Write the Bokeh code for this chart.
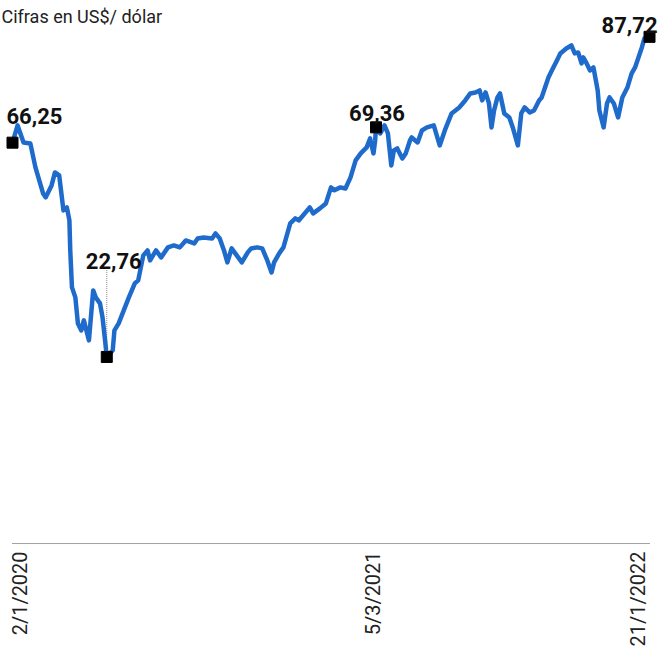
import math
import pandas as pd
from bokeh.plotting import figure
from bokeh.models import Range1d, Label, ColumnDataSource
from bokeh.core.properties import value
from bokeh.embed import file_html
from bokeh.resources import INLINE

# ---------------- data (Brent, US$ per barrel) ----------------
dates = [
    "2020-01-02", "2020-01-08", "2020-01-15", "2020-01-23", "2020-01-29", "2020-02-07",
    "2020-02-10", "2020-02-17", "2020-02-21", "2020-02-26", "2020-03-02", "2020-03-06",
    "2020-03-09", "2020-03-10", "2020-03-12", "2020-03-16", "2020-03-19", "2020-03-23",
    "2020-03-26", "2020-04-01", "2020-04-06", "2020-04-09", "2020-04-14", "2020-04-17",
    "2020-04-20", "2020-04-22", "2020-04-29", "2020-05-01", "2020-05-06", "2020-05-12",
    "2020-05-18", "2020-05-25", "2020-05-29", "2020-06-04", "2020-06-09", "2020-06-12",
    "2020-06-19", "2020-06-25", "2020-07-03", "2020-07-10", "2020-07-17", "2020-07-24",
    "2020-08-03", "2020-08-07", "2020-08-14", "2020-08-24", "2020-08-28", "2020-09-02",
    "2020-09-07", "2020-09-11", "2020-09-16", "2020-09-22", "2020-09-28", "2020-10-05",
    "2020-10-09", "2020-10-16", "2020-10-22", "2020-10-28", "2020-11-02", "2020-11-05",
    "2020-11-11", "2020-11-16", "2020-11-20", "2020-11-24", "2020-11-30", "2020-12-04",
    "2020-12-11", "2020-12-17", "2020-12-21", "2020-12-29", "2021-01-05", "2021-01-11",
    "2021-01-15", "2021-01-22", "2021-01-28", "2021-02-03", "2021-02-09", "2021-02-15",
    "2021-02-22", "2021-02-26", "2021-03-02", "2021-03-04", "2021-03-05", "2021-03-10",
    "2021-03-15", "2021-03-19", "2021-03-23", "2021-03-26", "2021-03-30", "2021-04-05",
    "2021-04-09", "2021-04-14", "2021-04-16", "2021-04-23", "2021-04-28", "2021-05-04",
    "2021-05-12", "2021-05-19", "2021-05-25", "2021-06-02", "2021-06-11", "2021-06-18",
    "2021-06-24", "2021-06-30", "2021-07-05", "2021-07-08", "2021-07-12", "2021-07-16",
    "2021-07-19", "2021-07-22", "2021-07-26", "2021-07-29", "2021-08-03", "2021-08-09",
    "2021-08-13", "2021-08-19", "2021-08-23", "2021-08-27", "2021-09-02", "2021-09-07",
    "2021-09-13", "2021-09-16", "2021-09-20", "2021-09-24", "2021-09-28", "2021-10-04",
    "2021-10-08", "2021-10-15", "2021-10-21", "2021-10-25", "2021-10-29", "2021-11-02",
    "2021-11-04", "2021-11-08", "2021-11-12", "2021-11-16", "2021-11-21", "2021-11-23",
    "2021-11-28", "2021-12-02", "2021-12-05", "2021-12-10", "2021-12-15", "2021-12-20",
    "2021-12-26", "2021-12-31", "2022-01-04", "2022-01-08", "2022-01-12", "2022-01-15",
    "2022-01-21",
]
prices = [
    66.25, 69.75, 66.30, 66.10, 61.23, 55.95,
    55.14, 57.57, 60.21, 59.60, 52.50, 53.11,
    50.47, 44.39, 36.88, 34.85, 29.57, 28.15,
    30.18, 26.12, 36.27, 34.85, 33.63, 30.79,
    26.10, 22.76, 24.10, 28.15, 29.57, 32.21,
    34.85, 37.69, 38.30, 43.37, 44.39, 42.36,
    44.39, 42.97, 45.00, 45.40, 45.00, 46.41,
    45.80, 46.82, 47.02, 46.82, 47.83, 46.82,
    44.39, 41.95, 44.79, 43.37, 41.95, 43.98,
    44.79, 45.00, 44.79, 42.36, 39.92, 41.95,
    43.78, 45.00, 47.43, 49.87, 50.88, 50.47,
    51.89, 53.11, 51.89, 52.91, 53.92, 57.17,
    56.60, 57.17, 56.96, 59.20, 62.65, 64.07,
    65.29, 67.11, 64.07, 66.70, 69.36, 68.12,
    69.75, 68.12, 61.63, 64.68, 65.08, 63.05,
    64.07, 66.70, 67.31, 66.30, 68.73, 69.34,
    69.75, 65.69, 68.73, 72.18, 73.40, 74.82,
    76.24, 76.44, 76.85, 74.82, 76.44, 74.21,
    69.34, 72.79, 75.43, 76.24, 72.18, 71.37,
    69.34, 65.69, 72.18, 73.40, 72.38, 72.79,
    74.82, 75.43, 77.46, 79.49, 80.91, 82.94,
    84.36, 85.37, 85.98, 84.36, 84.56, 82.33,
    83.55, 82.33, 80.91, 81.52, 76.85, 72.79,
    69.34, 74.21, 75.43, 74.21, 71.37, 75.43,
    77.46, 80.30, 81.52, 83.55, 85.58, 87.40,
    87.72,
]

# highlighted points
hl_dates = ["2020-01-02", "2020-04-22", "2021-03-05", "2022-01-21"]
hl_values = [66.25, 22.76, 69.36, 87.72]
hl_labels = ["66,25", "22,76", "69,36", "87,72"]

# x-axis tick labels
tick_dates = ["2020-01-02", "2021-03-05", "2022-01-21"]
tick_labels = ["2/1/2020", "5/3/2021", "21/1/2022"]

title_text = "Cifras en US$/ dólar"

# ---------------- layout ----------------
W, H = 658, 647
pad_left_px, pad_right_px = 12, 9
y_top, y_bottom = 95.1, -36.2
baseline_y = -15.1
ticklabel_top_y = -16.7

x = pd.to_datetime(dates)
d0, d1 = x[0], x[-1]
span_days = (d1 - d0).total_seconds() / 86400.0
px_per_day = (W - pad_left_px - pad_right_px) / span_days
x_start = d0 - pd.Timedelta(days=pad_left_px / px_per_day)
x_end = d1 + pd.Timedelta(days=pad_right_px / px_per_day)
px_per_unit = H / (y_top - y_bottom)

p = figure(width=W, height=H, output_backend="svg", toolbar_location=None,
           x_axis_type="datetime", x_axis_location=None, y_axis_location=None,
           x_range=Range1d(x_start, x_end), y_range=Range1d(y_bottom, y_top),
           min_border=0, min_border_left=0, min_border_right=0,
           min_border_top=0, min_border_bottom=0)
p.grid.visible = False
p.outline_line_color = None
p.background_fill_color = "white"
p.border_fill_color = "white"

# dotted baseline
p.segment(x0=[d0], x1=[d1], y0=[baseline_y], y1=[baseline_y],
          line_color="#444444", line_width=1, line_dash="1 1")

# leader line for the minimum label
hx = pd.to_datetime(hl_dates)
p.segment(x0=[hx[1]], x1=[hx[1]], y0=[hl_values[1]], y1=[hl_values[1] + 90 / px_per_unit],
          line_color="#888888", line_width=1, line_dash="1 1")

# price line
src = ColumnDataSource(dict(x=x, y=prices))
p.line("x", "y", source=src, line_color="#1f6bcc", line_width=4.5, line_join="round")

# markers
p.scatter(x=hx, y=hl_values, marker="square", size=11, color="black")

# value labels
label_styles = [
    dict(align="left", dx=-6, dy=-27),
    dict(align="center", dx=7, dy=-96),
    dict(align="center", dx=1, dy=-14),
    dict(align="right", dx=8, dy=-12),
]
for d, v, t, s in zip(hx, hl_values, hl_labels, label_styles):
    p.text(x=[d], y=[v], text=[t], text_font=value("Roboto"), text_font_style="bold",
           text_font_size="22px", text_color="#111111", text_align=s["align"],
           text_baseline="alphabetic", x_offset=s["dx"], y_offset=s["dy"])

# x tick labels (rotated)
tick_dx = [7, -3, -12]
tx = pd.to_datetime(tick_dates)
for d, t, dx in zip(tx, tick_labels, tick_dx):
    p.text(x=[d], y=[ticklabel_top_y], text=[t], angle=math.pi / 2,
           text_font=value("Roboto"), text_font_size="20px", text_color="#222222",
           text_align="right", text_baseline="middle", x_offset=dx)

# title
p.add_layout(Label(x=1, y=H - 16, x_units="screen", y_units="screen", text=title_text,
                   text_font="Roboto", text_font_size="18px", text_color="#222222",
                   text_baseline="alphabetic"))

open("out.html", "w").write(file_html(p, INLINE))
